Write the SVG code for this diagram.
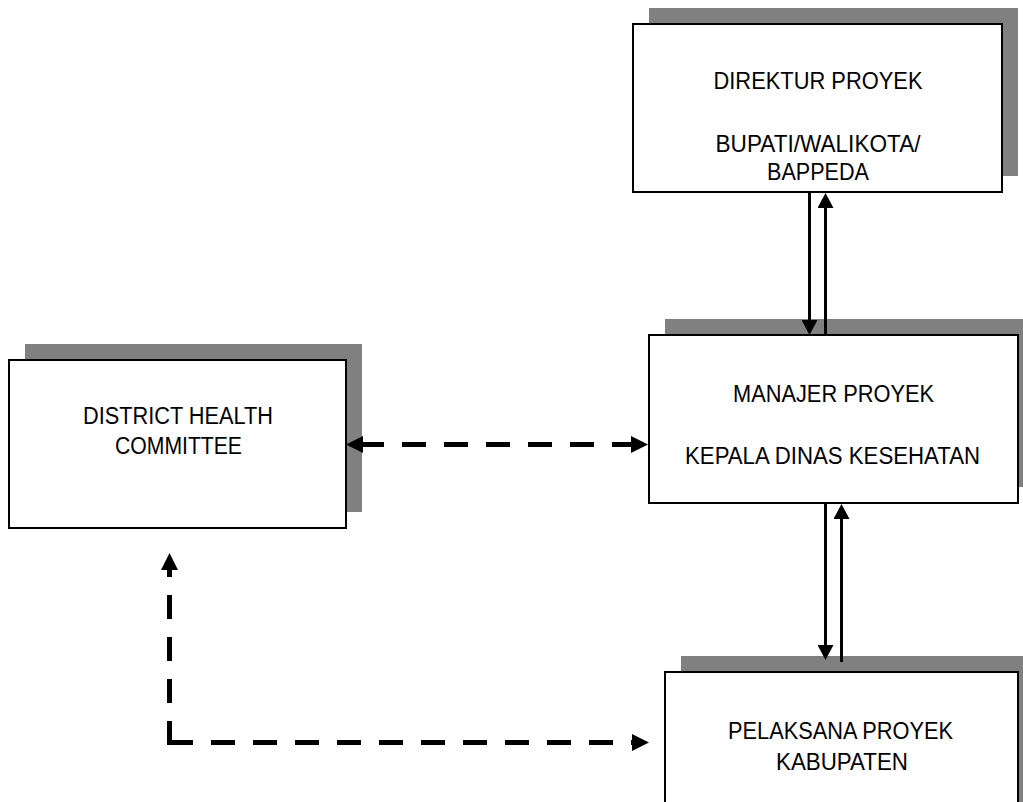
<svg xmlns="http://www.w3.org/2000/svg" width="1023" height="802" viewBox="0 0 1023 802">
<style>
.shadow{fill:#808080;stroke:none}
.box{fill:#ffffff;stroke:#000000;stroke-width:2}
.lbl{font-family:"Liberation Sans",Arial,sans-serif;font-size:24.5px;fill:#000000;text-anchor:middle}
.solid{fill:none;stroke:#000000;stroke-width:3}
.dash{fill:none;stroke:#000000;stroke-width:5;stroke-dasharray:24 18}
</style>
<defs>
<marker id="ah" markerUnits="userSpaceOnUse" markerWidth="16" markerHeight="16" refX="5" refY="8" orient="auto-start-reverse" viewBox="0 0 16 16">
<path d="M0,0 L15,8 L0,16 z" fill="#000000"/>
</marker>
<marker id="ahd" markerUnits="userSpaceOnUse" markerWidth="18" markerHeight="18" refX="3" refY="8.5" orient="auto-start-reverse" viewBox="0 0 18 17">
<path d="M0,0 L17,8.5 L0,17 z" fill="#000000"/>
</marker>
</defs>
<g id="node-direktur">
<rect class="shadow" x="649" y="8" width="369" height="168"/>
<rect class="box" x="633" y="24" width="369" height="168"/>
<text class="lbl" x="818" y="89" textLength="209" lengthAdjust="spacingAndGlyphs">DIREKTUR PROYEK</text>
<text class="lbl" x="818" y="152" textLength="205" lengthAdjust="spacingAndGlyphs">BUPATI/WALIKOTA/</text>
<text class="lbl" x="818" y="180" textLength="102" lengthAdjust="spacingAndGlyphs">BAPPEDA</text>
</g>
<g id="node-manajer">
<rect class="shadow" x="665" y="319" width="369" height="168"/>
<rect class="box" x="649" y="335" width="369" height="168"/>
<text class="lbl" x="833.5" y="402" textLength="201" lengthAdjust="spacingAndGlyphs">MANAJER PROYEK</text>
<text class="lbl" x="832.5" y="464" textLength="295" lengthAdjust="spacingAndGlyphs">KEPALA DINAS KESEHATAN</text>
</g>
<g id="node-dhc">
<rect class="shadow" x="25" y="344" width="337" height="168"/>
<rect class="box" x="9" y="360" width="337" height="168"/>
<text class="lbl" x="178" y="424" textLength="190" lengthAdjust="spacingAndGlyphs">DISTRICT HEALTH</text>
<text class="lbl" x="178.5" y="454" textLength="127" lengthAdjust="spacingAndGlyphs">COMMITTEE</text>
</g>
<g id="node-pelaksana">
<rect class="shadow" x="681" y="656" width="360" height="168"/>
<rect class="box" x="665" y="672" width="353" height="160"/>
<text class="lbl" x="840.5" y="739" textLength="225" lengthAdjust="spacingAndGlyphs">PELAKSANA PROYEK</text>
<text class="lbl" x="842" y="770" textLength="132" lengthAdjust="spacingAndGlyphs">KABUPATEN</text>
</g>
<g id="connectors">
<path class="solid" d="M809.5 193 L809.5 325" marker-end="url(#ah)"/>
<path class="solid" d="M825.5 335 L825.5 203" marker-end="url(#ah)"/>
<path class="solid" d="M825.5 504 L825.5 650" marker-end="url(#ah)"/>
<path class="solid" d="M841.5 662 L841.5 514" marker-end="url(#ah)"/>
<path class="dash" d="M360 444.5 L634 444.5" marker-start="url(#ahd)" marker-end="url(#ahd)"/>
<path class="dash" d="M169.5 745 L169.5 567" marker-end="url(#ahd)"/>
<path class="dash" d="M169 742.5 L635 742.5" marker-end="url(#ahd)"/>
</g>
</svg>
